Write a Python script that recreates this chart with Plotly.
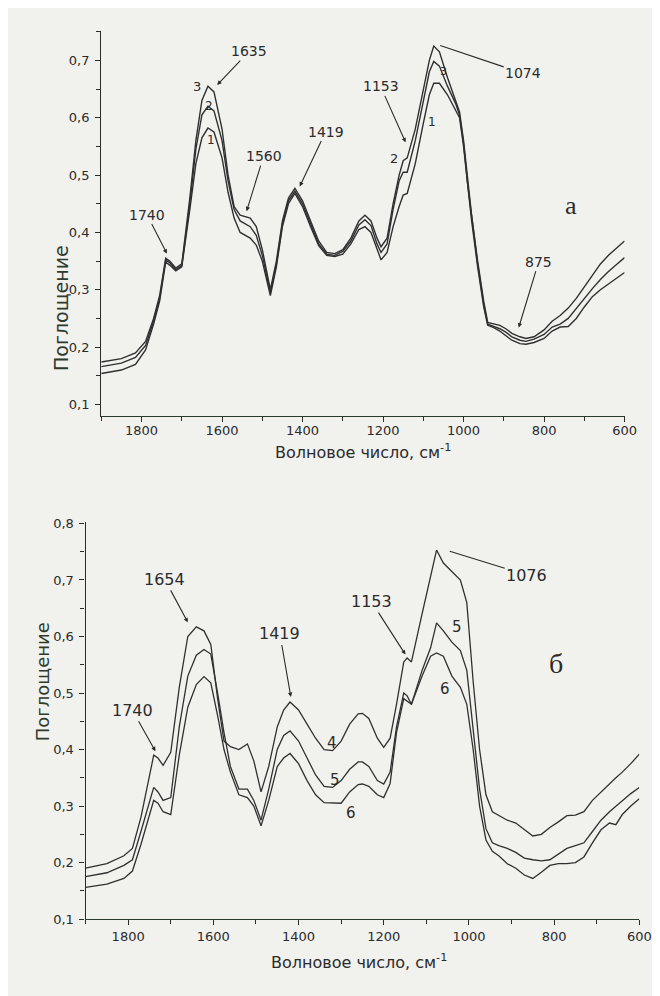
import plotly.graph_objects as go

# ---------------- data: panel a ----------------
top_wn = [1900, 1850, 1815, 1790, 1770, 1755, 1740, 1730, 1715, 1700, 1680, 1665, 1650, 1635,
          1620, 1600, 1585, 1570, 1555, 1530, 1515, 1500, 1480, 1465, 1450, 1435, 1419, 1400,
          1380, 1360, 1340, 1320, 1300, 1280, 1260, 1245, 1230, 1215, 1205, 1190, 1175, 1160,
          1150, 1140, 1120, 1100, 1085, 1074, 1060, 1040, 1020, 1010, 1000, 990, 980, 965, 950,
          940, 925, 910, 895, 880, 860, 845, 825, 800, 780, 760, 740, 720, 700, 680, 660, 640,
          620, 600]
curve3 = [0.174, 0.18, 0.19, 0.21, 0.25, 0.29, 0.355, 0.35, 0.338, 0.345, 0.46, 0.56, 0.63, 0.655,
          0.645, 0.58, 0.5, 0.445, 0.43, 0.425, 0.41, 0.37, 0.3, 0.35, 0.42, 0.46, 0.477, 0.455,
          0.42, 0.385, 0.365, 0.363, 0.37, 0.39, 0.42, 0.43, 0.42, 0.39, 0.375, 0.39, 0.45, 0.5,
          0.525, 0.53, 0.58, 0.65, 0.7, 0.725, 0.715, 0.67, 0.63, 0.61, 0.56, 0.49, 0.43, 0.35, 0.28,
          0.243, 0.24, 0.238, 0.232, 0.224, 0.218, 0.215, 0.218, 0.23, 0.245, 0.255, 0.268, 0.285,
          0.305, 0.325, 0.345, 0.36, 0.372, 0.385]
curve2 = [0.166, 0.172, 0.182, 0.203, 0.245, 0.285, 0.352, 0.347, 0.335, 0.342, 0.45, 0.545, 0.605,
          0.62, 0.612, 0.56, 0.49, 0.44, 0.42, 0.41, 0.395, 0.36, 0.295, 0.345, 0.415, 0.455, 0.472,
          0.45, 0.415, 0.38, 0.362, 0.36, 0.367, 0.385, 0.413, 0.422, 0.412, 0.38, 0.365, 0.38, 0.44,
          0.49, 0.505, 0.505, 0.56, 0.63, 0.68, 0.698, 0.69, 0.655, 0.625, 0.605, 0.555, 0.485, 0.425,
          0.345, 0.275, 0.24, 0.236, 0.232, 0.226, 0.218, 0.212, 0.21, 0.214, 0.222, 0.235, 0.24,
          0.25, 0.268, 0.285, 0.302, 0.318, 0.332, 0.344, 0.356]
curve1 = [0.154, 0.16, 0.17, 0.195, 0.24, 0.28, 0.348, 0.343, 0.333, 0.34, 0.44, 0.52, 0.565, 0.582,
          0.575, 0.53, 0.47, 0.425, 0.4, 0.39, 0.378, 0.35, 0.29, 0.34, 0.41, 0.45, 0.468, 0.445,
          0.41, 0.377, 0.36, 0.358, 0.362, 0.38, 0.405, 0.41, 0.4, 0.37, 0.352, 0.365, 0.41, 0.445,
          0.465, 0.468, 0.52, 0.59, 0.64, 0.66, 0.66, 0.64, 0.615, 0.6, 0.55, 0.48, 0.42, 0.34, 0.27,
          0.238, 0.234, 0.228, 0.22, 0.212, 0.206, 0.205, 0.208, 0.215, 0.228, 0.235, 0.236, 0.25,
          0.27, 0.288, 0.3, 0.31, 0.32, 0.33]

# ---------------- data: panel б ----------------
bot_wn = [1900, 1850, 1810, 1790, 1770, 1750, 1740, 1730, 1718, 1700, 1680, 1660, 1640, 1622, 1606,
          1590, 1575, 1560, 1540, 1520, 1505, 1488, 1470, 1450, 1435, 1420, 1400, 1380, 1360, 1340,
          1320, 1300, 1280, 1260, 1250, 1235, 1215, 1200, 1185, 1170, 1153, 1145, 1135, 1110, 1090,
          1076, 1060, 1040, 1020, 1005, 990, 975, 960, 945, 930, 910, 890, 870, 850, 830, 810, 790,
          770, 750, 730, 710, 690, 670, 655, 640, 620, 600]
curve4 = [0.19, 0.198, 0.212, 0.225, 0.28, 0.355, 0.39, 0.385, 0.372, 0.395, 0.51, 0.6, 0.617, 0.61,
          0.586, 0.49, 0.415, 0.405, 0.4, 0.41, 0.38, 0.325, 0.37, 0.44, 0.47, 0.484, 0.47, 0.445,
          0.42, 0.4, 0.398, 0.415, 0.445, 0.463, 0.464, 0.455, 0.42, 0.404, 0.42, 0.48, 0.555, 0.562,
          0.555, 0.64, 0.71, 0.753, 0.73, 0.715, 0.7, 0.66, 0.52, 0.4, 0.32, 0.29, 0.283, 0.275, 0.27,
          0.258, 0.247, 0.25, 0.262, 0.272, 0.283, 0.284, 0.29, 0.31, 0.325, 0.34, 0.35, 0.36, 0.375,
          0.392]
curve5 = [0.175, 0.182, 0.195, 0.205, 0.255, 0.31, 0.333, 0.325, 0.31, 0.315, 0.44, 0.53, 0.567,
          0.577, 0.569, 0.5, 0.43, 0.37, 0.33, 0.33, 0.31, 0.275, 0.33, 0.4, 0.425, 0.433, 0.415,
          0.385, 0.355, 0.335, 0.333, 0.345, 0.365, 0.378, 0.378, 0.37, 0.345, 0.339, 0.36, 0.44, 0.5,
          0.495, 0.48, 0.54, 0.58, 0.624, 0.61, 0.59, 0.575, 0.54, 0.43, 0.33, 0.26, 0.235, 0.23,
          0.225, 0.218, 0.208, 0.205, 0.203, 0.205, 0.215, 0.225, 0.23, 0.235, 0.255, 0.275, 0.29,
          0.3, 0.31, 0.322, 0.333]
curve6 = [0.156, 0.162, 0.172, 0.185, 0.232, 0.285, 0.31, 0.305, 0.29, 0.285, 0.39, 0.475, 0.515,
          0.529, 0.518, 0.46, 0.4, 0.36, 0.32, 0.315, 0.3, 0.265, 0.31, 0.37, 0.385, 0.393, 0.375,
          0.345, 0.32, 0.306, 0.305, 0.305, 0.325, 0.338, 0.339, 0.335, 0.32, 0.315, 0.34, 0.43, 0.49,
          0.485, 0.48, 0.53, 0.565, 0.571, 0.565, 0.53, 0.51, 0.48, 0.4, 0.3, 0.24, 0.22, 0.212, 0.198,
          0.19, 0.178, 0.172, 0.183, 0.195, 0.198, 0.198, 0.2, 0.21, 0.235, 0.258, 0.27, 0.267, 0.285,
          0.3, 0.313]

# ---------------- ticks ----------------
x_tickvals = [1800, 1600, 1400, 1200, 1000, 800, 600]
x_ticktext = ["1800", "1600", "1400", "1200", "1000", "800", "600"]
top_y_tickvals = [0.1, 0.2, 0.3, 0.4, 0.5, 0.6, 0.7]
top_y_ticktext = ["0,1", "0,2", "0,3", "0,4", "0,5", "0,6", "0,7"]
bot_y_tickvals = [0.1, 0.2, 0.3, 0.4, 0.5, 0.6, 0.7, 0.8]
bot_y_ticktext = ["0,1", "0,2", "0,3", "0,4", "0,5", "0,6", "0,7", "0,8"]

W, H = 660, 996
BG = "#f1f1ee"
INK = "#2b2b2b"
LINE = "#303030"
FONT = "DejaVu Sans"

fig = go.Figure()
for ys in (curve1, curve2, curve3):
    fig.add_trace(go.Scatter(x=top_wn, y=ys, mode="lines", xaxis="x", yaxis="y",
                             line=dict(color=LINE, width=1.4), showlegend=False))
for ys in (curve4, curve5, curve6):
    fig.add_trace(go.Scatter(x=bot_wn, y=ys, mode="lines", xaxis="x2", yaxis="y2",
                             line=dict(color=LINE, width=1.3), showlegend=False))


def px_dom(a, b, total):
    return [a / total, b / total]


axis_common = dict(showgrid=False, zeroline=False, showline=True, linewidth=1.3,
                   ticks="outside", ticklen=5, tickwidth=1.2, tickcolor=INK,
                   tickfont=dict(family=FONT, size=13, color=INK))

fig.update_layout(
    width=W, height=H, margin=dict(l=0, r=0, t=0, b=0),
    paper_bgcolor=BG, plot_bgcolor=BG,
    xaxis=dict(domain=px_dom(95, 628, W), range=[1900, 600], anchor="y",
               tickvals=x_tickvals, ticktext=x_ticktext, linecolor="#2a3a2a",
               ticklabelstandoff=-3,
               minor=dict(ticks="outside", dtick=100, tick0=600, ticklen=4, tickcolor=INK),
               **axis_common),
    yaxis=dict(domain=[1 - 408 / H, 1 - 17 / H], range=[0.0794, 0.7516], anchor="x",
               tickvals=top_y_tickvals, ticktext=top_y_ticktext, linecolor=INK,
               ticklabelstandoff=3,
               minor=dict(ticks="outside", dtick=0.05, tick0=0.05, ticklen=4, tickcolor=INK),
               **axis_common),
    xaxis2=dict(domain=px_dom(79, 643, W), range=[1900, 600], anchor="y2",
                tickvals=x_tickvals, ticktext=x_ticktext, linecolor="#2a3a2a",
                ticklabelstandoff=0,
                minor=dict(ticks="outside", dtick=100, tick0=600, ticklen=4, tickcolor=INK),
                **axis_common),
    yaxis2=dict(domain=[1 - 918 / H, 1 - 515 / H], range=[0.1, 0.803], anchor="x2",
                tickvals=bot_y_tickvals, ticktext=bot_y_ticktext, linecolor=INK,
                ticklabelstandoff=3,
                minor=dict(ticks="outside", dtick=0.05, tick0=0.05, ticklen=4, tickcolor=INK),
                **axis_common),
)

ann = []


def arrow(xr, yr, x, y, text, ax, ay, size, head=2):
    ann.append(dict(x=x, y=y, xref=xr, yref=yr, text=text, showarrow=True,
                    ax=ax, ay=ay, arrowhead=head, arrowsize=0.8, arrowwidth=1.1,
                    arrowcolor=INK, font=dict(family=FONT, size=size, color=INK)))


def label(xr, yr, x, y, text, size):
    ann.append(dict(x=x, y=y, xref=xr, yref=yr, text=text, showarrow=False,
                    font=dict(family=FONT, size=size, color=INK)))


# panel a annotations
arrow("x", "y", 1612, 0.657, "1635", 32, -34, 14)
arrow("x", "y", 1539, 0.437, "1560", 17, -55, 14)
arrow("x", "y", 1407, 0.48, "1419", 26, -55, 14)
arrow("x", "y", 1737, 0.363, "1740", -20, -39, 14)
arrow("x", "y", 1144, 0.557, "1153", -25, -56, 14)
arrow("x", "y", 1058, 0.726, "1074", 83, 28, 14, head=0)
arrow("x", "y", 863, 0.234, "875", 20, -66, 14)
label("x", "y", 1661, 0.655, "3", 13)
label("x", "y", 1632, 0.62, "2", 12)
label("x", "y", 1627, 0.561, "1", 12)
label("x", "y", 1173, 0.528, "2", 13)
label("x", "y", 1078, 0.592, "1", 12)
label("x", "y", 1051, 0.68, "3", 11)

# panel б annotations
arrow("x2", "y2", 1660, 0.625, "1654", -23, -43, 16)
arrow("x2", "y2", 1418, 0.493, "1419", -11, -63, 16)
arrow("x2", "y2", 1736, 0.397, "1740", -23, -41, 16)
arrow("x2", "y2", 1149, 0.568, "1153", -34, -53, 16)
arrow("x2", "y2", 1045, 0.751, "1076", 77, 24, 16, head=0)
label("x2", "y2", 1029, 0.617, "5", 15)
label("x2", "y2", 1057, 0.507, "6", 15)
label("x2", "y2", 1322, 0.411, "4", 15)
label("x2", "y2", 1315, 0.346, "5", 15)
label("x2", "y2", 1276, 0.288, "6", 15)

# panel letters
ann.append(dict(x=582 / W, y=1 - 177 / H, xref="paper", yref="paper", text="a", showarrow=False,
                font=dict(family="Liberation Serif", size=26, color=INK)))
ann.append(dict(x=567 / W, y=1 - 677 / H, xref="paper", yref="paper", text="б", showarrow=False,
                font=dict(family="Liberation Serif", size=28, color=INK)))

# axis titles
ann.append(dict(x=40 / W, y=1 - 232 / H, xref="paper", yref="paper", text="Поглощение",
                showarrow=False, textangle=-90,
                font=dict(family=FONT, size=19, color="#2f3a2f")))
ann.append(dict(x=22 / W, y=1 - 740 / H, xref="paper", yref="paper", text="Поглощение",
                showarrow=False, textangle=-90,
                font=dict(family=FONT, size=18, color="#2f3a2f")))
ann.append(dict(x=362 / W, y=1 - 444 / H, xref="paper", yref="paper",
                text="Волновое число, см<sup>-1</sup>", showarrow=False,
                font=dict(family=FONT, size=16, color=INK)))
ann.append(dict(x=358 / W, y=1 - 974 / H, xref="paper", yref="paper",
                text="Волновое число, см<sup>-1</sup>", showarrow=False,
                font=dict(family=FONT, size=16, color=INK)))

fig.update_layout(annotations=ann)
fig.write_html("out.html")
